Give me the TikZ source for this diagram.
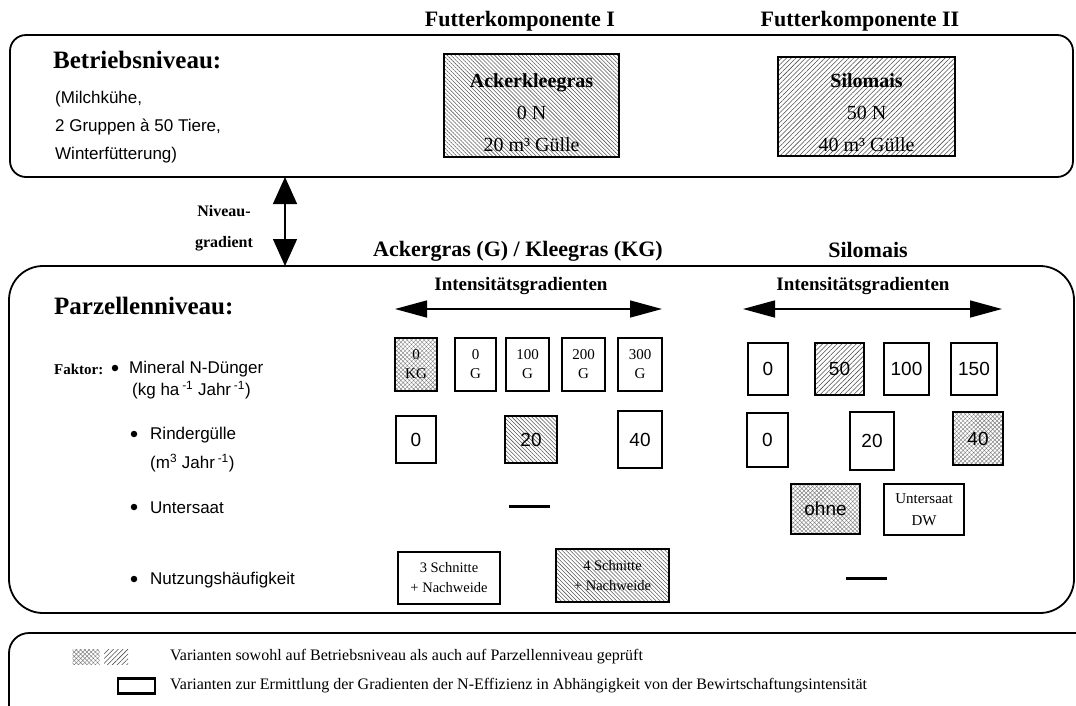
\documentclass[tikz,border=0pt]{standalone}
\usepackage{fontspec}
\setmainfont{Liberation Serif}
\newfontfamily\sansfont{Liberation Sans}
\usetikzlibrary{arrows.meta,patterns.meta}

\tikzset{
  frame/.style={draw, line width=1.8pt, inner sep=0pt},
  cell/.style={draw, line width=2.4pt, inner sep=0pt, align=center},
  hatchnw/.style={pattern={Lines[angle=-45,distance=2.8pt,line width=0.55pt]}, pattern color=black!65},
  hatchne/.style={pattern={Lines[angle=45,distance=3.4pt,line width=0.55pt]}, pattern color=black!70},
  hatchx/.style={pattern={Hatch[angle=45,distance=3pt,line width=0.45pt]}, pattern color=black!50},
  head/.style={font=\fontsize{22}{26}\selectfont\bfseries},
  level/.style={font=\fontsize{25}{30}\selectfont\bfseries, anchor=west, inner sep=0pt},
  body/.style={font=\sansfont\fontsize{17}{20}\selectfont, anchor=west, align=left, inner sep=0pt},
  num/.style={font=\sansfont\fontsize{19}{22}\selectfont},
  small/.style={font=\fontsize{15}{19}\selectfont},
  note/.style={font=\fontsize{14.5}{20}\selectfont},
  legend/.style={font=\fontsize{16}{18}\selectfont, anchor=west, inner sep=0pt},
  dot/.style={circle, fill, inner sep=0pt, minimum size=6.5pt},
  nullbar/.style={line width=3pt},
  gradarrow/.style={line width=1.5pt, {Triangle[length=32pt,width=17pt]}-{Triangle[length=32pt,width=17pt]}},
}

\begin{document}
\begin{tikzpicture}[x=1pt, y=-1pt]
\useasboundingbox (0,0) rectangle (1076,705);
\clip (0,0) rectangle (1076,705);

% ---------- Betriebsniveau ----------
\node[head] (fk1) at (520,21) {Futterkomponente I};
\node[head] (fk2) at (860,21) {Futterkomponente II};

\node[frame, rounded corners=16pt, minimum width=1063pt, minimum height=142pt] (betrieb) at (541.5,106) {};
\node[level] (betriebtitle) at (53,60) {Betriebsniveau:};
\node[body, font=\sansfont\fontsize{17}{28}\selectfont] (betriebinfo) at (55,127)
  {(Milchkühe,\\2 Gruppen à 50 Tiere,\\Winterfütterung)};

\node[cell, hatchnw, minimum width=175pt, minimum height=103pt] (akg) at (531.5,105.5) {};
\node[align=center, font=\fontsize{20}{32}\selectfont] (akgtext) at (531.5,113)
  {\textbf{Ackerkleegras}\\0 N\\20 m³ Gülle};
\node[cell, hatchne, minimum width=177pt, minimum height=99pt] (smb) at (866.5,106.5) {};
\node[align=center, font=\fontsize{20}{32}\selectfont] (smbtext) at (866.5,113)
  {\textbf{Silomais}\\50 N\\40 m³ Gülle};

% ---------- Niveaugradient ----------
\coordinate (nivtop) at (285,177);
\coordinate (nivbot) at (285,266);
\draw[line width=1.5pt, {Triangle[length=27pt,width=24pt]}-{Triangle[length=27pt,width=24pt]}] (nivtop) -- (nivbot);
\node[align=center, font=\fontsize{16}{31}\selectfont\bfseries] (nivtext) at (224,228.5) {Niveau-\\gradient};

% ---------- Parzellenniveau ----------
\node[head] (gras) at (518,251) {Ackergras (G) / Kleegras (KG)};
\node[head] (mais) at (868,250) {Silomais};

\node[frame, rounded corners=34pt, minimum width=1065pt, minimum height=347pt] (parzelle) at (541.5,439.5) {};
\node[level] (parztitle) at (54,306) {Parzellenniveau:};

\node[font=\fontsize{19}{22}\selectfont\bfseries] (grad1) at (521,286) {Intensitätsgradienten};
\node[font=\fontsize{19}{22}\selectfont\bfseries] (grad2) at (863,286) {Intensitätsgradienten};
\coordinate (g1l) at (395,309);
\coordinate (g1r) at (662,309);
\coordinate (g2l) at (743,309);
\coordinate (g2r) at (1002,309);
\draw[gradarrow] (g1l) -- (g1r);
\draw[gradarrow] (g2l) -- (g2r);

% factor labels
\node[font=\fontsize{15}{20}\selectfont\bfseries, anchor=west, inner sep=0pt] (faktor) at (54,369) {Faktor:};
\node[dot] (b1) at (115,368) {};
\node[body] (mineral) at (129,369) {Mineral N-Dünger};
\node[body] (mineralunit) at (132,390) {(kg ha\,\textsuperscript{-1} Jahr\,\textsuperscript{-1})};
\node[dot] (b2) at (134,434) {};
\node[body] (guelle) at (150,435) {Rindergülle};
\node[body] (guelleunit) at (150,463) {(m\textsuperscript{3} Jahr\,\textsuperscript{-1})};
\node[dot] (b3) at (134,507) {};
\node[body] (untersaat) at (150,508) {Untersaat};
\node[dot] (b4) at (134,579) {};
\node[body] (nutzung) at (150,580) {Nutzungshäufigkeit};

% mineral N, grass
\node[cell, hatchx, small, minimum width=42pt, minimum height=53pt] (n0kg) at (416,364.5) {0\\KG};
\node[cell, small, minimum width=41pt, minimum height=53pt] (n0g) at (475.5,364.5) {0\\G};
\node[cell, small, minimum width=43pt, minimum height=53pt] (n100g) at (527.5,364.5) {100\\G};
\node[cell, small, minimum width=43pt, minimum height=53pt] (n200g) at (583.5,364.5) {200\\G};
\node[cell, small, minimum width=44pt, minimum height=53pt] (n300g) at (640,364.5) {300\\G};
% mineral N, maize
\node[cell, num, minimum width=40pt, minimum height=52pt] (m0) at (768,369) {0};
\node[cell, num, hatchne, minimum width=49pt, minimum height=52pt] (m50) at (839.5,369) {50};
\node[cell, num, minimum width=45pt, minimum height=52pt] (m100) at (906.5,369) {100};
\node[cell, num, minimum width=46pt, minimum height=52pt] (m150) at (974,369) {150};

% slurry, grass
\node[cell, num, minimum width=40pt, minimum height=47pt] (r0g) at (416,439.5) {0};
\node[cell, num, hatchnw, minimum width=52pt, minimum height=47pt] (r20g) at (531,439.5) {20};
\node[cell, num, minimum width=44pt, minimum height=57pt] (r40g) at (640,439.5) {40};
% slurry, maize
\node[cell, num, minimum width=41pt, minimum height=54pt] (r0m) at (767.5,440) {0};
\node[cell, num, minimum width=44pt, minimum height=58pt] (r20m) at (872,441) {20};
\node[cell, num, hatchx, minimum width=50pt, minimum height=53pt] (r40m) at (978,438.5) {40};

% undersown crop
\coordinate (u1a) at (509,506);
\coordinate (u1b) at (550,506);
\draw[nullbar] (u1a) -- (u1b);
\node[cell, num, hatchx, minimum width=69pt, minimum height=50pt] (ohne) at (825.5,509) {ohne};
\node[cell, font=\fontsize{15}{22}\selectfont, minimum width=80pt, minimum height=51pt] (usdw) at (924,509.5) {Untersaat\\DW};

% cutting frequency
\node[cell, note, minimum width=102pt, minimum height=52pt] (s3) at (449,578) {3 Schnitte\\+ Nachweide};
\node[cell, note, hatchnw, minimum width=113pt, minimum height=53pt] (s4) at (612.5,575.5) {4 Schnitte\\+ Nachweide};
\coordinate (u2a) at (846,578);
\coordinate (u2b) at (887,578);
\draw[nullbar] (u2a) -- (u2b);

% ---------- legend ----------
\draw[frame, rounded corners=20pt] (1100,633) -- (9,633) -- (9,730);
\node[hatchx, inner sep=0pt, minimum width=27pt, minimum height=15pt] (sw1) at (86,657) {};
\node[hatchne, inner sep=0pt, minimum width=24pt, minimum height=15pt] (sw2) at (116,657) {};
\node[legend] (leg1) at (170,657) {Varianten sowohl auf Betriebsniveau als auch auf Parzellenniveau geprüft};
\node[cell, minimum width=37pt, minimum height=15pt] (sw3) at (136.5,686) {};
\node[legend] (leg2) at (170,686) {Varianten zur Ermittlung der Gradienten der N-Effizienz in Abhängigkeit von der Bewirtschaftungsintensität};
\end{tikzpicture}
\end{document}
